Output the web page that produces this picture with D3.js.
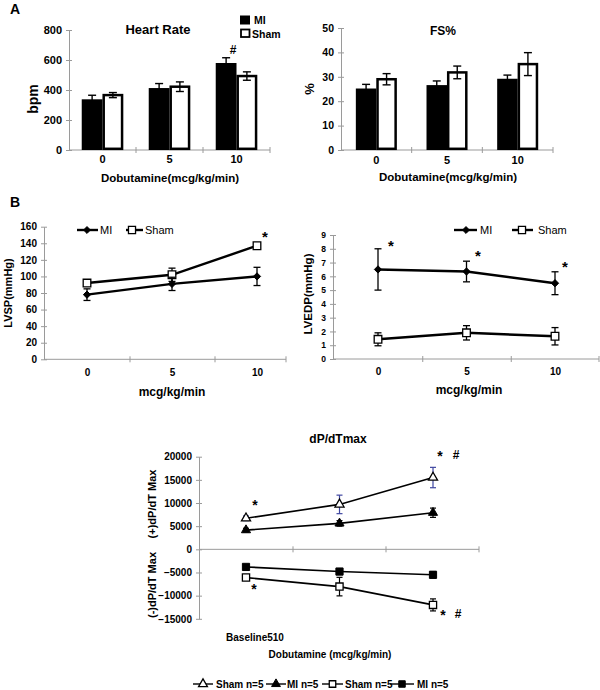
<!DOCTYPE html>
<html><head><meta charset="utf-8">
<script src="https://cdn.jsdelivr.net/npm/d3@7"></script>
<style>body{margin:0;background:#fff} text{font-family:"Liberation Sans",Arial,sans-serif}</style>
</head><body><svg id="c" width="600" height="690"></svg>
<script>
// ---------- DATA ----------
const doses = ["0", "5", "10"];
const hrMI = [338, 413, 580], hrMIErr = [27, 30, 35];
const hrSham = [366, 422, 493], hrShamErr = [17, 32, 28];
const hrTicks = [0, 200, 400, 600, 800];

const fsMI = [25.2, 26.6, 29.2], fsMIErr = [1.7, 1.7, 1.5];
const fsSham = [29.0, 31.8, 35.2], fsShamErr = [2.3, 2.6, 4.7];
const fsTicks = [0, 10, 20, 30, 40, 50];

const lvspMI = [78, 91, 100], lvspMIErr = [7, 8, 11];
const lvspSham = [92, 102, 137], lvspShamErr = [2, 8, 2];
const lvspTicks = [0, 20, 40, 60, 80, 100, 120, 140, 160];

const lvedpMI = [6.5, 6.35, 5.5], lvedpMIErr = [1.5, 0.75, 0.83];
const lvedpSham = [1.43, 1.9, 1.65], lvedpShamErr = [0.47, 0.52, 0.63];
const lvedpTicks = [0, 1, 2, 3, 4, 5, 6, 7, 8, 9];

const dpShamPos = [6700, 9700, 15500], dpShamPosErr = [500, 2000, 2200];
const dpMIPos = [4150, 5600, 7900], dpMIPosErr = [400, 600, 1000];
const dpShamNeg = [-6100, -8050, -12000], dpShamNegErr = [300, 2000, 1300];
const dpMINeg = [-3800, -4800, -5500], dpMINegErr = [200, 300, 700];
const dpTicks = [-15000, -10000, -5000, 0, 5000, 10000, 15000, 20000];

// ---------- HELPERS ----------
const svg = d3.select("#c");
svg.append("rect").attr("width", 600).attr("height", 690).attr("fill", "#fff");
const AX = "#9a9a9a";

function txt(x, y, s, o = {}) {
  const t = svg.append("text").attr("x", x).attr("y", y).text(s)
    .attr("font-size", o.size || 11).attr("font-weight", o.weight || "bold")
    .attr("text-anchor", o.anchor || "middle").attr("fill", o.fill || "#000");
  if (o.rotate) t.attr("transform", `rotate(-90,${x},${y})`);
  return t;
}

function yAxis(y, x, ticks, fs, fmt) {
  const g = svg.append("g").attr("transform", `translate(${x},0)`)
    .call(d3.axisLeft(y).tickValues(ticks).tickSize(3).tickPadding(4).tickSizeOuter(0)
      .tickFormat(fmt || d3.format("d")));
  g.select(".domain").attr("stroke", AX);
  g.selectAll(".tick line").attr("x1", -3).attr("x2", 3).attr("stroke", AX);
  g.selectAll(".tick text").attr("font-size", fs).attr("font-weight", "bold")
    .attr("font-family", "Liberation Sans, Arial, sans-serif").attr("fill", "#000");
  return g;
}

function xBase(yPix, x0, x1, tickXs) {
  svg.append("line").attr("x1", x0).attr("x2", x1).attr("y1", yPix).attr("y2", yPix).attr("stroke", AX);
  tickXs.forEach(t => svg.append("line").attr("x1", t).attr("x2", t)
    .attr("y1", yPix - 3).attr("y2", yPix + 3).attr("stroke", AX));
}

function xLabels(scale, yPix, pad, fs) {
  const g = svg.append("g").attr("transform", `translate(0,${yPix})`)
    .call(d3.axisBottom(scale).tickSize(0).tickPadding(pad));
  g.select(".domain").remove();
  g.selectAll(".tick text").attr("font-size", fs).attr("font-weight", "bold")
    .attr("font-family", "Liberation Sans, Arial, sans-serif").attr("fill", "#000");
}

function errBar(x, yTop, yBot, cap, color, w) {
  const g = svg.append("g").attr("stroke", color || "#000").attr("stroke-width", w || 1.4);
  g.append("line").attr("x1", x).attr("x2", x).attr("y1", yTop).attr("y2", yBot);
  g.append("line").attr("x1", x - cap / 2).attr("x2", x + cap / 2).attr("y1", yTop).attr("y2", yTop);
  g.append("line").attr("x1", x - cap / 2).attr("x2", x + cap / 2).attr("y1", yBot).attr("y2", yBot);
}

function marker(type, x, y, size) {
  const base = type.split("-")[0];
  const open = type.endsWith("open");
  let path;
  if (base === "diamond") {
    const r = Math.sqrt(size) / 2 * 1.15;
    path = `M0,${-r}L${r},0L0,${r}L${-r},0Z`;
  } else {
    const sym = { square: d3.symbolSquare, triangle: d3.symbolTriangle }[base];
    path = d3.symbol(sym, size)();
  }
  svg.append("path").attr("d", path)
    .attr("transform", `translate(${x},${y})`)
    .attr("fill", open ? "#fff" : "#000").attr("stroke", "#000").attr("stroke-width", open ? 1.3 : 1);
}

// ---------- BAR PANELS ----------
function barPanel(p) {
  const x = d3.scaleBand().domain(doses).range([p.x0, p.x1]);
  const y = d3.scaleLinear().domain([0, p.ymax]).range([p.yBot, p.yTop]);
  const gw = x.bandwidth() * p.ratio;
  const sub = d3.scaleBand().domain(["MI", "Sham"]).range([0, gw]);
  yAxis(y, p.x0, p.ticks, p.tickFs);
  xBase(p.yBot, p.x0, p.x1, doses.map(d => x(d) + x.bandwidth()));
  doses.forEach((d, i) => {
    const left = x(d) + (x.bandwidth() - gw) / 2;
    svg.append("rect").attr("x", left + sub("MI")).attr("width", sub.bandwidth())
      .attr("y", y(p.mi[i])).attr("height", y(0) - y(p.mi[i])).attr("fill", "#000");
    svg.append("rect").attr("x", left + sub("Sham") + 1.2).attr("width", sub.bandwidth() - 2.4)
      .attr("y", y(p.sham[i])).attr("height", y(0) - y(p.sham[i]) - 1.2)
      .attr("fill", "#fff").attr("stroke", "#000").attr("stroke-width", 2.5);
    errBar(left + sub("MI") + sub.bandwidth() / 2, y(p.mi[i] + p.miErr[i]), y(p.mi[i] - p.miErr[i]), 8);
    errBar(left + sub("Sham") + sub.bandwidth() / 2, y(p.sham[i] + p.shamErr[i]), y(p.sham[i] - p.shamErr[i]), 8);
  });
  xLabels(x, p.yBot, p.labPad, 11);
  return { x, y };
}

// Heart rate
barPanel({ x0: 69, x1: 270, yTop: 30, yBot: 150, ymax: 800, ticks: hrTicks, tickFs: 11,
  mi: hrMI, miErr: hrMIErr, sham: hrSham, shamErr: hrShamErr, ratio: 0.62, labPad: 5 });
txt(158, 34, "Heart Rate", { size: 13 });
txt(170, 182, "Dobutamine(mcg/kg/min)", { size: 11.5 });
txt(38, 99, "bpm", { size: 14, rotate: true });
txt(10, 14, "A", { size: 14, anchor: "start" });
txt(233, 54, "#", { size: 12 });
svg.append("rect").attr("x", 240).attr("y", 15.5).attr("width", 10).attr("height", 9).attr("fill", "#000");
txt(254, 24, "MI", { size: 10.5, anchor: "start" });
svg.append("rect").attr("x", 241).attr("y", 29.5).attr("width", 8.5).attr("height", 7.5)
  .attr("fill", "#fff").attr("stroke", "#000").attr("stroke-width", 1.8);
txt(252, 37.5, "Sham", { size: 10.5, anchor: "start" });

// FS%
barPanel({ x0: 341, x1: 553, yTop: 28, yBot: 150, ymax: 50, ticks: fsTicks, tickFs: 10.5,
  mi: fsMI, miErr: fsMIErr, sham: fsSham, shamErr: fsShamErr, ratio: 0.58, labPad: 6 });
txt(443, 35, "FS%", { size: 12 });
txt(448, 181, "Dobutamine(mcg/kg/min)", { size: 11.5 });
txt(314, 89, "%", { size: 13, rotate: true });

// ---------- LINE PANELS (B) ----------
function linePanel(p) {
  const x = d3.scalePoint().domain(doses).range([p.px0, p.px1]);
  const y = d3.scaleLinear().domain([0, p.ymax]).range([p.yBot, p.yTop]);
  yAxis(y, p.x0, p.ticks, p.tickFs);
  xBase(p.yBot, p.x0, p.x1, [(x("0") + x("5")) / 2 + 0.5, (x("5") + x("10")) / 2 + 0.5, p.x1]);
  xLabels(x, p.yBot, p.labPad, 10);
  const line = d3.line().x((d, i) => x(doses[i])).y(d => y(d));
  [[p.sham, p.shamErr, "square-open"], [p.mi, p.miErr, "diamond"]].forEach(([vals, errs, m]) => {
    svg.append("path").attr("d", line(vals)).attr("fill", "none").attr("stroke", "#000").attr("stroke-width", 2.4);
    vals.forEach((v, i) => errBar(x(doses[i]), y(v + errs[i]), y(v - errs[i]), 7, "#000", 1.3));
    vals.forEach((v, i) => marker(m, x(doses[i]), y(v), m === "diamond" ? 40 : 58));
  });
  return { x, y };
}
function lineLegend(items, y) {
  items.forEach(it => {
    svg.append("line").attr("x1", it.l0).attr("x2", it.l1).attr("y1", y).attr("y2", y)
      .attr("stroke", "#000").attr("stroke-width", 2.4);
    marker(it.m, it.mx, y, it.m === "diamond" ? 36 : 50);
    txt(it.tx, y + 4, it.label, { size: 11, weight: "normal", anchor: "start" });
  });
}

// LVSP
linePanel({ x0: 44, x1: 286, px0: 87, px1: 257, yTop: 226.7, yBot: 359.3, ymax: 160, ticks: lvspTicks,
  tickFs: 10, mi: lvspMI, miErr: lvspMIErr, sham: lvspSham, shamErr: lvspShamErr, labPad: 10 });
lineLegend([{ l0: 77, l1: 98, mx: 87, m: "diamond", tx: 100, label: "MI" },
            { l0: 126, l1: 143, mx: 132, m: "square-open", tx: 145, label: "Sham" }], 230);
txt(265, 242, "*", { size: 15 });
txt(10, 207, "B", { size: 14, anchor: "start" });
txt(12, 293, "LVSP(mmHg)", { size: 11, rotate: true });
txt(172, 396, "mcg/kg/min", { size: 12 });

// LVEDP
linePanel({ x0: 333, x1: 599, px0: 378, px1: 555, yTop: 235, yBot: 359, ymax: 9, ticks: lvedpTicks,
  tickFs: 8.5, mi: lvedpMI, miErr: lvedpMIErr, sham: lvedpSham, shamErr: lvedpShamErr, labPad: 9 });
lineLegend([{ l0: 454, l1: 477, mx: 466, m: "diamond", tx: 480, label: "MI" },
            { l0: 512, l1: 533, mx: 522, m: "square-open", tx: 538, label: "Sham" }], 230);
txt(391, 251, "*", { size: 15 });
txt(478, 261, "*", { size: 15 });
txt(565, 272, "*", { size: 15 });
txt(312, 294, "LVEDP(mmHg)", { size: 11.5, rotate: true });
txt(469, 394, "mcg/kg/min", { size: 12 });

// ---------- dP/dT PANEL (C) ----------
const xc = d3.scalePoint().domain(doses).range([246, 433]);
const yc = d3.scaleLinear().domain([-15000, 20000]).range([618.8, 456.7]);
yAxis(yc, 199, dpTicks, 10, d3.format("d"));
xBase(yc(0), 199, 479, [293, 386, 479]);
const lc = d3.line().x((d, i) => xc(doses[i])).y(d => yc(d));
[
  [dpMIPos, dpMIPosErr, "triangle", "#000"],
  [dpShamPos, dpShamPosErr, "triangle-open", "#3f46a0"],
  [dpMINeg, dpMINegErr, "square", "#000"],
  [dpShamNeg, dpShamNegErr, "square-open", "#000"]
].forEach(([vals, errs, m, ec]) => {
  svg.append("path").attr("d", lc(vals)).attr("fill", "none").attr("stroke", "#000").attr("stroke-width", 1.6);
  vals.forEach((v, i) => errBar(xc(doses[i]), yc(v + errs[i]), yc(v - errs[i]), 6, ec, 1.2));
  vals.forEach((v, i) => marker(m, xc(doses[i]), yc(v), m.startsWith("triangle") ? 36 : 52));
});
txt(338, 443, "dP/dTmax", { size: 12 });
txt(255, 510, "*", { size: 14 });
txt(440, 461, "*", { size: 14 });
txt(456, 459, "#", { size: 12 });
txt(254, 594, "*", { size: 14 });
txt(443, 620, "*", { size: 14 });
txt(458, 618, "#", { size: 12 });
txt(156, 504, "(+)dP/dT Max", { size: 11, rotate: true });
txt(156, 585, "(-)dP/dT Max", { size: 11, rotate: true });
txt(255, 641, "Baseline510", { size: 10 });
txt(330, 658, "Dobutamine (mcg/kg/min)", { size: 10 });

// bottom legend
const legC = [
  { l0: 193, l1: 213, m: "triangle-open", tx: 216, label: "Sham n=5" },
  { l0: 266, l1: 286, m: "triangle", tx: 287, label: "MI n=5" },
  { l0: 322, l1: 343, m: "square-open", tx: 345, label: "Sham n=5" },
  { l0: 390, l1: 414, m: "square", tx: 417, label: "MI n=5" }
];
legC.forEach(it => {
  svg.append("line").attr("x1", it.l0).attr("x2", it.l1).attr("y1", 684).attr("y2", 684)
    .attr("stroke", "#000").attr("stroke-width", 1.4);
  marker(it.m, (it.l0 + it.l1) / 2, 684, it.m.startsWith("triangle") ? 34 : 42);
  txt(it.tx, 688, it.label, { size: 10, anchor: "start" });
});
</script></body></html>
